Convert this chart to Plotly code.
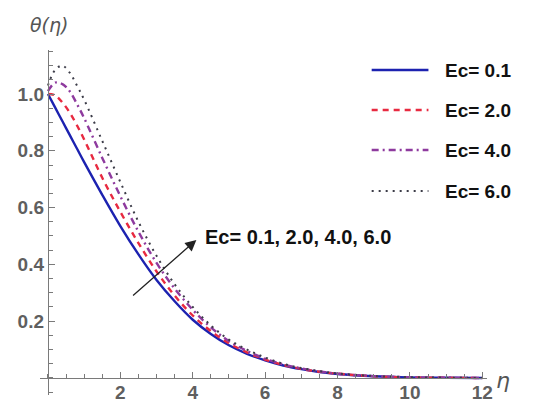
import plotly.graph_objects as go

# Temperature profiles theta(eta) for several Eckert numbers
eta = [0.0, 0.2, 0.4, 0.6, 0.8, 1.0, 1.5, 2.0, 2.5, 3.0, 3.5, 4.0, 4.5, 5.0,
       5.5, 6.0, 6.5, 7.0, 7.5, 8.0, 9.0, 10.0, 11.0, 12.0]

theta_ec01 = [1.0, 0.952, 0.904, 0.856, 0.808, 0.76, 0.645, 0.535, 0.435, 0.345,
              0.27, 0.205, 0.155, 0.115, 0.085, 0.062, 0.044, 0.031, 0.021, 0.014,
              0.006, 0.002, 0.0005, 0.0]
theta_ec20 = [1.0, 0.995, 0.97, 0.935, 0.89, 0.84, 0.705, 0.585, 0.475, 0.375,
              0.29, 0.22, 0.165, 0.122, 0.09, 0.065, 0.046, 0.032, 0.022, 0.015,
              0.006, 0.002, 0.0006, 0.0]
theta_ec40 = [1.01, 1.04, 1.035, 1.01, 0.965, 0.915, 0.775, 0.64, 0.515, 0.405,
              0.315, 0.24, 0.178, 0.13, 0.095, 0.068, 0.048, 0.034, 0.023, 0.015,
              0.0065, 0.0025, 0.0008, 0.0]
theta_ec60 = [1.03, 1.085, 1.1, 1.075, 1.03, 0.98, 0.835, 0.69, 0.55, 0.43,
              0.33, 0.25, 0.185, 0.135, 0.1, 0.072, 0.05, 0.035, 0.024, 0.016,
              0.007, 0.003, 0.001, 0.0]

labels = ["Ec= 0.1", "Ec= 2.0", "Ec= 4.0", "Ec= 6.0"]
series = [theta_ec01, theta_ec20, theta_ec40, theta_ec60]
colors = ["#1c22b0", "#e82a40", "#8e3a9e", "#3c3c48"]
dashes = ["solid", "6px,5px", "7px,4px,2px,4px", "2px,5px"]
widths = [2.4, 2.4, 2.4, 2.0]

x_ticks = [2, 4, 6, 8, 10, 12]
y_ticks = [0.2, 0.4, 0.6, 0.8, 1.0]

x_range = [-0.22, 12.13]
y_range = [-0.06, 1.155]

# arrow marking the direction of increasing Ec
arrow_tail = (2.31, 0.286)
arrow_head = (4.1, 0.486)
arrow_text = "Ec= 0.1, 2.0, 4.0, 6.0"
arrow_text_pos = (4.28, 0.498)

fig = go.Figure()
for y, name, c, d, w in zip(series, labels, colors, dashes, widths):
    fig.add_trace(go.Scatter(
        x=eta, y=y, mode="lines", name=name,
        line=dict(color=c, dash=d, width=w, shape="spline", smoothing=1.0),
        showlegend=False,
    ))

axis_col = "#7a7a7a"
tick_font = dict(family="Liberation Sans", size=19, color="#5f5f5f", weight="bold")

fig.update_layout(
    width=550, height=403,
    margin=dict(l=40, r=63, t=50, b=8),
    paper_bgcolor="white", plot_bgcolor="white",
    xaxis=dict(
        range=x_range, anchor="free",
        position=(0 - y_range[0]) / (y_range[1] - y_range[0]),
        showgrid=False, zeroline=False, automargin=False,
        showline=True, linecolor=axis_col, linewidth=1.3,
        tickmode="array", tickvals=x_ticks, ticktext=[str(v) for v in x_ticks],
        ticks="inside", ticklen=6, tickwidth=1.2, tickcolor=axis_col,
        tickfont=tick_font, ticklabelstandoff=-3,
        minor=dict(tickmode="linear", tick0=0, dtick=0.5, ticks="inside",
                   ticklen=3.5, tickwidth=1, tickcolor=axis_col),
    ),
    yaxis=dict(
        range=y_range, anchor="free",
        position=(0 - x_range[0]) / (x_range[1] - x_range[0]),
        showgrid=False, zeroline=False, automargin=False,
        showline=True, linecolor=axis_col, linewidth=1.3,
        tickmode="array", tickvals=y_ticks, ticktext=[f"{v:.1f}" for v in y_ticks],
        ticks="inside", ticklen=6, tickwidth=1.2, tickcolor=axis_col,
        tickfont=tick_font,
        minor=dict(tickmode="linear", tick0=0, dtick=0.05, ticks="inside",
                   ticklen=3.5, tickwidth=1, tickcolor=axis_col),
    ),
)

# axis titles in Mathematica style
fig.add_annotation(text="<i>θ(η)</i>", xref="paper", yref="paper", x=0.022, y=1.072,
                   xanchor="center", yanchor="middle", showarrow=False,
                   font=dict(family="DejaVu Sans", size=19, color="#555555"))
fig.add_annotation(text="<i>η</i>", xref="paper", yref="paper", x=1.036, y=0.043,
                   xanchor="center", yanchor="middle", showarrow=False,
                   font=dict(family="DejaVu Sans", size=22, color="#555555"))

# arrow and its label
fig.add_annotation(x=arrow_head[0], y=arrow_head[1], ax=arrow_tail[0], ay=arrow_tail[1],
                   xref="x", yref="y", axref="x", ayref="y", text="",
                   showarrow=True, arrowhead=2, arrowsize=1.7, arrowwidth=1.3,
                   arrowcolor="#222222")
fig.add_annotation(text=arrow_text, x=arrow_text_pos[0], y=arrow_text_pos[1],
                   xref="x", yref="y", xanchor="left", yanchor="middle", showarrow=False,
                   font=dict(family="Liberation Sans", size=20, color="#111111", weight="bold"))

# legend drawn as key lines plus labels
legend_rows = [0.942, 0.826, 0.710, 0.591]
for ry, name, c, d, w in zip(legend_rows, labels, colors, dashes, widths):
    fig.add_shape(type="line", xref="paper", yref="paper", x0=0.742, x1=0.869,
                  y0=ry, y1=ry, line=dict(color=c, dash=d, width=w))
    fig.add_annotation(text=name, xref="paper", yref="paper", x=0.902, y=ry,
                       xanchor="left", yanchor="middle", showarrow=False,
                       font=dict(family="Liberation Sans", size=19, color="#111111",
                                 weight="bold"))

fig.write_html("out.html")
